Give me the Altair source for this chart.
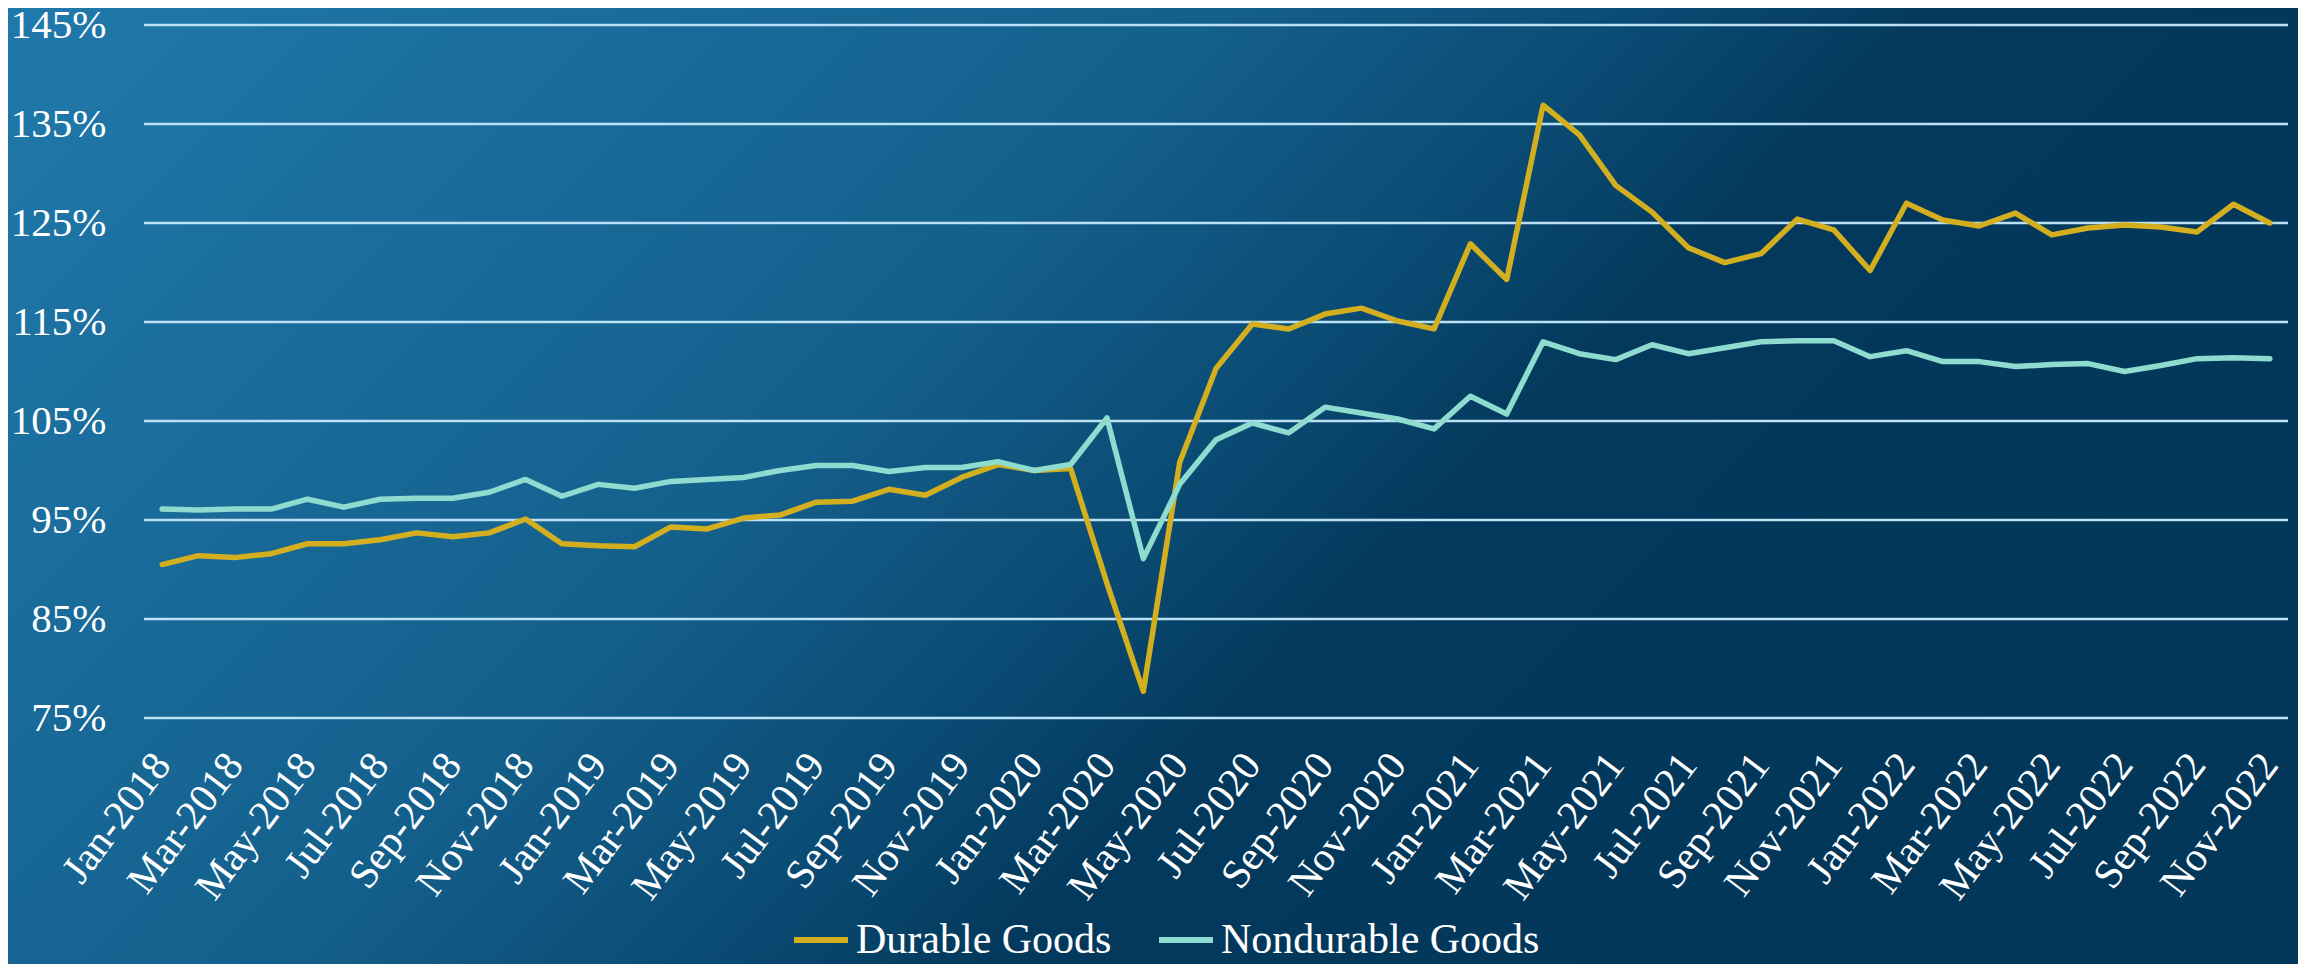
import altair as alt
import pandas as pd

MON = ["Jan", "Feb", "Mar", "Apr", "May", "Jun", "Jul", "Aug", "Sep", "Oct", "Nov", "Dec"]
months = [f"{m}-{y}" for y in range(2018, 2023) for m in MON][:59]  # Jan-2018 .. Nov-2022

durable = [
    90.5, 91.4, 91.2, 91.6, 92.6, 92.6, 93.0, 93.7, 93.3, 93.7,
    95.1, 92.6, 92.4, 92.3, 94.3, 94.1, 95.2, 95.5, 96.8, 96.9,
    98.1, 97.5, 99.3, 100.6, 100.0, 100.2, 88.6, 77.7, 100.8, 110.3,
    114.8, 114.3, 115.8, 116.4, 115.1, 114.3, 122.9, 119.3, 136.9, 133.9,
    128.8, 126.1, 122.5, 121.0, 121.9, 125.4, 124.3, 120.2, 127.0, 125.3,
    124.7, 126.0, 123.8, 124.5, 124.8, 124.6, 124.1, 126.9, 125.0,
]
nondurable = [
    96.1, 96.0, 96.1, 96.1, 97.1, 96.3, 97.1, 97.2, 97.2, 97.8,
    99.1, 97.4, 98.6, 98.2, 98.9, 99.1, 99.3, 100.0, 100.5, 100.5,
    99.9, 100.3, 100.3, 100.9, 100.0, 100.6, 105.3, 91.1, 98.6, 103.1,
    104.8, 103.8, 106.4, 105.8, 105.2, 104.2, 107.5, 105.7, 113.0, 111.8,
    111.2, 112.7, 111.8, 112.4, 113.0, 113.1, 113.1, 111.5, 112.1, 111.0,
    111.0, 110.5, 110.7, 110.8, 110.0, 110.6, 111.3, 111.4, 111.3,
]
series_names = ["Durable Goods", "Nondurable Goods"]
series_colors = ["#D3AF1F", "#8EDBCF"]
y_ticks = [75, 85, 95, 105, 115, 125, 135, 145]

rows = []
for i, m in enumerate(months):
    rows.append({"month": m, "series": series_names[0], "value": durable[i]})
    rows.append({"month": m, "series": series_names[1], "value": nondurable[i]})
df = pd.DataFrame(rows)

W, H = 2144, 693
PAD = {"left": 136, "top": 17, "right": 10, "bottom": 246}
FONT = "Liberation Serif"

x_scale = alt.Scale(type="point", padding=0.5, domain=months)
y_scale = alt.Scale(domain=[75, 145], nice=False, zero=False)

y_axis = alt.Axis(
    values=y_ticks,
    labelExpr="datum.value + '%'",
    labelFont=FONT,
    labelFontSize=41,
    labelColor="white",
    labelPadding=38,
    ticks=False,
    domain=False,
    grid=False,
    zindex=1,
)

bg = alt.Chart(alt.Data(values=[{"a": 1}])).mark_rect(
    fill=alt.Gradient(
        gradient="linear",
        x1=0, y1=0, x2=1, y2=0.417,
        stops=[
            alt.GradientStop(color="#2079AB", offset=0),
            alt.GradientStop(color="#14608C", offset=0.45),
            alt.GradientStop(color="#0A4A72", offset=0.62),
            alt.GradientStop(color="#03395C", offset=0.72),
            alt.GradientStop(color="#02375A", offset=1),
        ],
    ),
    strokeWidth=0,
).encode(
    x=alt.value(-PAD["left"]),
    x2=alt.value(W + PAD["right"]),
    y=alt.value(-PAD["top"]),
    y2=alt.value(H + PAD["bottom"]),
)

grid = alt.Chart(pd.DataFrame({"g": y_ticks})).mark_rule(
    color="#BCE1F5", strokeWidth=2.5
).encode(
    y=alt.Y("g:Q", scale=y_scale, title=None, axis=y_axis)
)

lines = alt.Chart(df).mark_line(
    strokeWidth=5.5, strokeCap="round", strokeJoin="round"
).encode(
    x=alt.X(
        "month:O",
        scale=x_scale,
        sort=months,
        title=None,
        axis=alt.Axis(
            values=months[::2],
            labelAngle=-53,
            labelAlign="right",
            labelBaseline="middle",
            labelPadding=40,
            labelFont=FONT,
            labelFontSize=41,
            labelColor="white",
            labelOverlap=False,
            labelBound=False,
            ticks=False,
            domain=False,
            grid=False,
            zindex=1,
        ),
    ),
    y=alt.Y("value:Q", scale=y_scale, title=None, axis=y_axis),
    color=alt.Color(
        "series:N",
        scale=alt.Scale(domain=series_names, range=series_colors),
        sort=series_names,
        legend=alt.Legend(
            title=None,
            orient="none",
            legendX=647,
            legendY=885,
            direction="horizontal",
            symbolType="stroke",
            symbolStrokeWidth=6,
            symbolSize=2916,
            labelFont=FONT,
            labelFontSize=42,
            labelColor="white",
            labelLimit=800,
            labelOffset=5,
            columnPadding=35,
            padding=0,
            zindex=1,
        ),
    ),
    order=alt.Order("series:N"),
)

chart = alt.layer(bg, grid, lines).properties(
    width=W,
    height=H,
    padding=PAD,
    autosize=alt.AutoSizeParams(type="none"),
    background="#03395C",
).configure_view(stroke=None)

chart.save("out.html", embed_options={"renderer": "svg", "actions": False})
